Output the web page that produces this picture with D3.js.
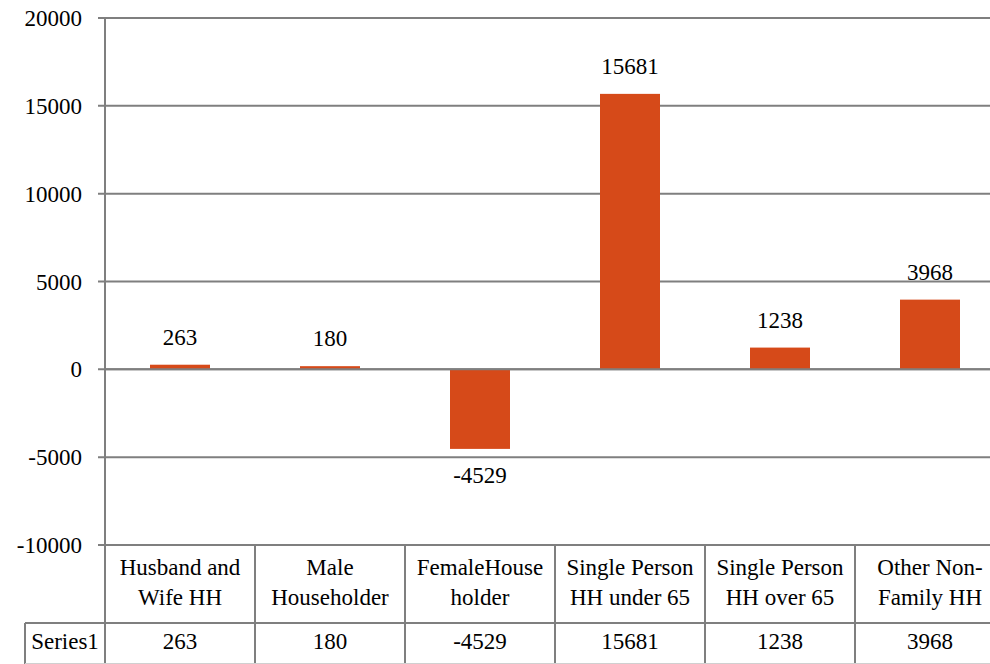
<!DOCTYPE html>
<html>
<head>
<meta charset="utf-8">
<script src="https://cdn.jsdelivr.net/npm/d3@7"></script>
<style>
  body { margin: 0; background: #fff; }
  svg text { font-family: "Liberation Serif", "Times New Roman", Times, "DejaVu Serif", serif; fill: #000; }
</style>
</head>
<body>
<div id="chart"></div>
<script>
"use strict";

// Household change by type
var categories = [
  ["Husband and", "Wife HH"],
  ["Male", "Householder"],
  ["FemaleHouse", "holder"],
  ["Single Person", "HH under 65"],
  ["Single Person", "HH over 65"],
  ["Other Non-", "Family HH"]
];
var seriesName = "Series1";
var values = [263, 180, -4529, 15681, 1238, 3968];
var yTicks = [-10000, -5000, 0, 5000, 10000, 15000, 20000];

var width = 990, height = 664;
var plotLeft = 105, plotTop = 18, plotBottom = 545;
var bandWidth = 150;
var tableTop = 623;
var fontSize = 23;
var gray = "#7f7f7f";
var barColor = "#d64a19";
var serif = "'Liberation Serif', 'Times New Roman', Times, 'DejaVu Serif', serif";

var svg = d3.select("#chart").append("svg")
  .attr("width", width)
  .attr("height", height)
  .attr("font-family", serif)
  .attr("font-size", fontSize);

var x = d3.scaleBand()
  .domain(d3.range(values.length))
  .range([plotLeft, plotLeft + bandWidth * values.length])
  .paddingInner(0.6)
  .paddingOuter(0.3);

var y = d3.scaleLinear()
  .domain([-10000, 20000])
  .range([plotBottom, plotTop]);

// gridlines + ticks
svg.append("g").selectAll("line")
  .data(yTicks)
  .enter().append("line")
    .attr("x1", plotLeft - 7)
    .attr("x2", width)
    .attr("y1", function (d) { return y(d); })
    .attr("y2", function (d) { return y(d); })
    .attr("stroke", gray)
    .attr("stroke-width", 2);

svg.append("g").selectAll("text")
  .data(yTicks)
  .enter().append("text")
    .attr("x", 82)
    .attr("y", function (d) { return y(d); })
    .attr("dy", "0.35em")
    .attr("text-anchor", "end")
    .text(function (d) { return d; });

// bars
svg.append("g").selectAll("rect")
  .data(values)
  .enter().append("rect")
    .attr("x", function (d, i) { return x(i); })
    .attr("width", x.bandwidth())
    .attr("y", function (d) { return y(Math.max(0, d)); })
    .attr("height", function (d) { return Math.abs(y(d) - y(0)); })
    .attr("fill", barColor);

// redraw zero line over bars
svg.append("line")
  .attr("x1", plotLeft).attr("x2", width)
  .attr("y1", y(0)).attr("y2", y(0))
  .attr("stroke", gray).attr("stroke-width", 2);

// data labels
svg.append("g").selectAll("text")
  .data(values)
  .enter().append("text")
    .attr("x", function (d, i) { return x(i) + x.bandwidth() / 2; })
    .attr("y", function (d) { return d >= 0 ? y(d) - 28 : y(d) + 26; })
    .attr("dy", "0.35em")
    .attr("text-anchor", "middle")
    .text(function (d) { return d; });

// y axis line
svg.append("line")
  .attr("x1", plotLeft).attr("x2", plotLeft)
  .attr("y1", plotTop).attr("y2", height)
  .attr("stroke", gray).attr("stroke-width", 2);

// category dividers
svg.append("g").selectAll("line")
  .data(d3.range(1, values.length))
  .enter().append("line")
    .attr("x1", function (i) { return plotLeft + bandWidth * i; })
    .attr("x2", function (i) { return plotLeft + bandWidth * i; })
    .attr("y1", plotBottom)
    .attr("y2", height)
    .attr("stroke", gray).attr("stroke-width", 2);

// category labels
var catText = svg.append("g").selectAll("text")
  .data(categories)
  .enter().append("text")
    .attr("text-anchor", "middle");

catText.selectAll("tspan")
  .data(function (d, i) { return d.map(function (t) { return { t: t, i: i }; }); })
  .enter().append("tspan")
    .attr("x", function (d) { return plotLeft + bandWidth * d.i + bandWidth / 2; })
    .attr("y", function (d, j) { return 567 + j * 30; })
    .attr("dy", "0.35em")
    .text(function (d) { return d.t; });

// data table
svg.append("line")
  .attr("x1", 25).attr("x2", width)
  .attr("y1", tableTop).attr("y2", tableTop)
  .attr("stroke", gray).attr("stroke-width", 2);

svg.append("line")
  .attr("x1", 25).attr("x2", 25)
  .attr("y1", tableTop).attr("y2", height)
  .attr("stroke", gray).attr("stroke-width", 2);

svg.append("line")
  .attr("x1", 25).attr("x2", width)
  .attr("y1", height - 0.5).attr("y2", height - 0.5)
  .attr("stroke", "#d0d0d0").attr("stroke-width", 1);

svg.append("text")
  .attr("x", 65)
  .attr("y", 641)
  .attr("dy", "0.35em")
  .attr("text-anchor", "middle")
  .text(seriesName);

svg.append("g").selectAll("text")
  .data(values)
  .enter().append("text")
    .attr("x", function (d, i) { return plotLeft + bandWidth * i + bandWidth / 2; })
    .attr("y", 641)
    .attr("dy", "0.35em")
    .attr("text-anchor", "middle")
    .text(function (d) { return d; });
</script>
</body>
</html>
